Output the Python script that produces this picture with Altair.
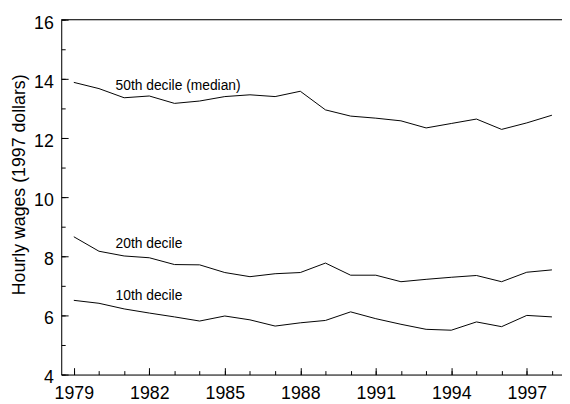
import altair as alt
import pandas as pd

years = list(range(1979, 1999))
p50 = [13.88, 13.67, 13.36, 13.42, 13.17, 13.25, 13.40, 13.46, 13.40, 13.58,
       12.95, 12.74, 12.67, 12.58, 12.34, 12.49, 12.64, 12.29, 12.51, 12.77]
p20 = [8.66, 8.17, 8.01, 7.95, 7.72, 7.71, 7.45, 7.31, 7.41, 7.45,
       7.77, 7.36, 7.36, 7.14, 7.22, 7.29, 7.35, 7.14, 7.46, 7.54]
p10 = [6.51, 6.41, 6.22, 6.08, 5.95, 5.81, 5.98, 5.85, 5.64, 5.75,
       5.83, 6.12, 5.89, 5.70, 5.53, 5.50, 5.78, 5.62, 6.00, 5.95]

series_names = ["50th decile (median)", "20th decile", "10th decile"]
label_year = [1980.66, 1980.66, 1980.66]
label_value = [13.62, 8.28, 6.52]

x_major = [1979, 1982, 1985, 1988, 1991, 1994, 1997]
x_minor = list(range(1979, 1999))
y_major = [4, 6, 8, 10, 12, 14, 16]
y_minor = list(range(4, 17))

rows = []
for name, vals in zip(series_names, [p50, p20, p10]):
    for yr, v in zip(years, vals):
        rows.append({"year": yr, "wage": v, "series": name})
df = pd.DataFrame(rows)
labels_df = pd.DataFrame({"year": label_year, "wage": label_value, "text": series_names})

FONT = "Liberation Sans"

x_scale = alt.Scale(domain=[1978.5, 1998.4], nice=False, zero=False)
y_scale = alt.Scale(domain=[4, 16], nice=False, zero=False)

x_axis = alt.Axis(
    title=None, values=x_major, format="d", orient="bottom",
    labelFontSize=18, labelFont=FONT, labelColor="black", labelPadding=17,
    labelOverlap=False, labelFlush=False,
    tickSize=alt.ExprRef("-7"), tickColor="black", tickWidth=1,
    domainColor="black", domainWidth=1, grid=False,
)
x_axis_minor = alt.Axis(
    title=None, values=x_minor, orient="bottom", labels=False, domain=False,
    tickSize=alt.ExprRef("-4"), tickColor="black", tickWidth=1, grid=False,
)
y_axis = alt.Axis(
    title="Hourly wages (1997 dollars)", values=y_major, orient="left",
    labelFontSize=18, labelFont=FONT, labelColor="black", labelPadding=15,
    labelOverlap=False, labelFlush=False, labelOffset=3.5,
    tickSize=alt.ExprRef("-7"), tickColor="black", tickWidth=1,
    domainColor="black", domainWidth=1, grid=False,
    titleFont=FONT, titleFontSize=18, titleFontWeight="normal", titleColor="black",
    titleX=-37.5, titleY=167, titleAlign="center", titleBaseline="alphabetic", titleAngle=270,
)
y_axis_minor = alt.Axis(
    title=None, values=y_minor, orient="left", labels=False, domain=False,
    tickSize=alt.ExprRef("-4"), tickColor="black", tickWidth=1, grid=False,
)

lines = alt.Chart(df).mark_line(color="black", strokeWidth=1).encode(
    x=alt.X("year:Q", scale=x_scale, axis=x_axis),
    y=alt.Y("wage:Q", scale=y_scale, axis=y_axis),
    detail="series:N",
)

texts = alt.Chart(labels_df).mark_text(
    align="left", baseline="alphabetic", fontSize=14, font=FONT, color="black"
).encode(
    x=alt.X("year:Q", scale=x_scale, axis=x_axis_minor),
    y=alt.Y("wage:Q", scale=y_scale, axis=y_axis_minor),
    text="text:N",
)

top_line = alt.Chart(pd.DataFrame({"v": [16]})).mark_rule(color="black", strokeWidth=1).encode(
    y=alt.Y("v:Q", scale=y_scale, axis=None)
)

chart = alt.layer(lines, texts, top_line).resolve_axis(
    x="independent", y="independent"
).properties(
    width=508, height=360,
    autosize=alt.AutoSizeParams(type="none"),
    padding={"left": 54, "top": 9, "right": 0, "bottom": 27},
).configure_view(stroke=None).configure(background="white")

chart.save("out.html", embed_options={"renderer": "svg", "actions": False})
